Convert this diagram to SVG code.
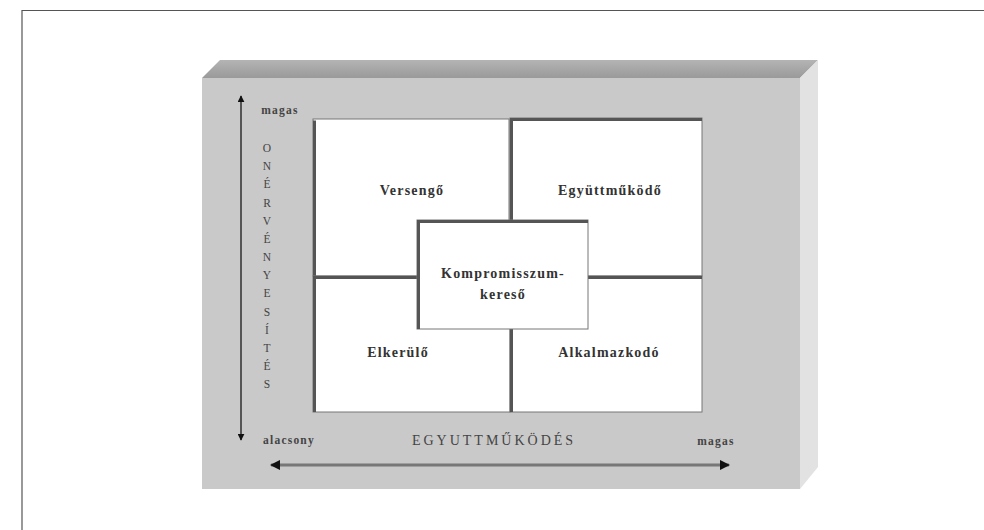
<svg xmlns="http://www.w3.org/2000/svg" width="984" height="530" viewBox="0 0 984 530">
<style>
.lbl{font-family:"Liberation Serif","DejaVu Serif",serif;font-size:14px;font-weight:bold;fill:#333;text-anchor:middle;letter-spacing:1.2px}
.ax{font-family:"Liberation Serif","DejaVu Serif",serif;font-size:11.5px;font-weight:bold;fill:#444;text-anchor:middle;letter-spacing:1.2px}
.vl{font-family:"Liberation Serif","DejaVu Serif",serif;font-size:11.5px;fill:#444;text-anchor:middle}
.box{fill:#fff;stroke:#777;stroke-width:1}
.sh{stroke:#555;stroke-width:3;fill:none}
</style>
<defs>
<marker id="ah" viewBox="0 0 10 10" refX="9" refY="5" markerWidth="3.5" markerHeight="3.5" orient="auto-start-reverse"><path d="M0,0L10,5L0,10z" fill="#111"/></marker>
<linearGradient id="tg" x1="0" y1="0" x2="0" y2="1"><stop offset="0" stop-color="#b4b4b4"/><stop offset="1" stop-color="#9a9a9a"/></linearGradient>
</defs>
<rect x="0" y="0" width="984" height="530" fill="#fff"/>
<path d="M22,530V10.5H984" fill="none" stroke="#555" stroke-width="1.2"/>
<g id="box3d">
<polygon points="202,78 220,60 818,60 800,78" fill="url(#tg)"/>
<polygon points="800,78 818,60 818,467 800,489" fill="#e2e2e2"/>
<rect x="202" y="78" width="598" height="411" fill="#c9c9c9"/>
</g>
<g id="quad-tl">
<rect class="box" x="313" y="119" width="196" height="157"/>
<path class="sh" d="M314.5,276V120.5"/>
<text class="lbl" x="412" y="195">Versengő</text>
</g>
<g id="quad-tr">
<rect class="box" x="510" y="118" width="192" height="158"/>
<path class="sh" d="M511.5,276V119.5H702"/>
<text class="lbl" x="610" y="195">Együttműködő</text>
</g>
<g id="quad-bl">
<rect class="box" x="313" y="276" width="197" height="136"/>
<path class="sh" d="M314.5,412V277.5H510"/>
<text class="lbl" x="398" y="357">Elkerülő</text>
</g>
<g id="quad-br">
<rect class="box" x="510" y="276" width="192" height="136"/>
<path class="sh" d="M511.5,412V277.5H702"/>
<text class="lbl" x="609" y="357">Alkalmazkodó</text>
</g>
<g id="center">
<rect class="box" x="417" y="220" width="171" height="109"/>
<path class="sh" d="M418.5,329V221.5H588"/>
<text class="lbl" x="503" y="278">Kompromisszum-</text>
<text class="lbl" x="503" y="299">kereső</text>
</g>
<g id="connectors">
<line x1="241" y1="96" x2="241" y2="440" stroke="#555" stroke-width="2" marker-start="url(#ah)" marker-end="url(#ah)"/>
<line x1="271" y1="465" x2="729" y2="465" stroke="#777" stroke-width="3" marker-start="url(#ah)" marker-end="url(#ah)"/>
</g>
<g id="axis-labels">
<text class="ax" x="280" y="114">magas</text>
<g class="vl">
<text x="267" y="152">O</text>
<text x="267" y="170">N</text>
<text x="267" y="188">É</text>
<text x="267" y="207">R</text>
<text x="267" y="225">V</text>
<text x="267" y="243">É</text>
<text x="267" y="261">N</text>
<text x="267" y="279">Y</text>
<text x="267" y="297">E</text>
<text x="267" y="316">S</text>
<text x="267" y="334">Í</text>
<text x="267" y="352">T</text>
<text x="267" y="370">É</text>
<text x="267" y="388">S</text>
</g>
<text class="ax" x="289" y="444">alacsony</text>
<text class="vl" x="494" y="445" style="font-size:14px;letter-spacing:3px">EGYUTTMŰKÖDÉS</text>
<text class="ax" x="716" y="445">magas</text>
</g>
</svg>
